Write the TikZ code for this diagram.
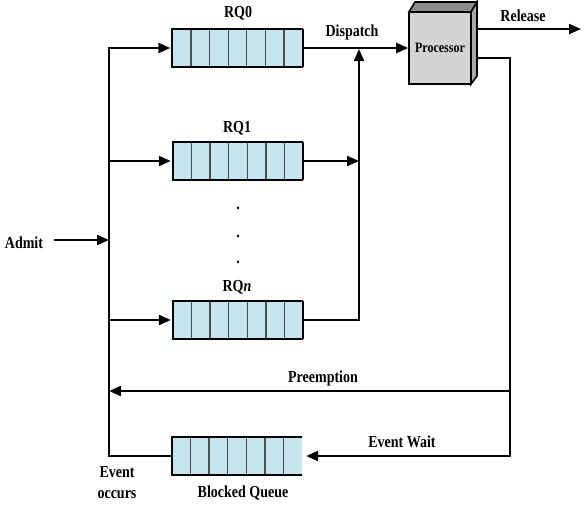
\documentclass[tikz,border=0pt]{standalone}
\usepackage{fontspec}
\setmainfont{Liberation Serif}
\usetikzlibrary{arrows.meta}
\usetikzlibrary{calc}
\definecolor{qblue}{RGB}{194,229,239}
\definecolor{procfront}{RGB}{212,212,212}
\definecolor{proctop}{RGB}{140,140,140}
\definecolor{procside}{RGB}{168,168,168}
\newcommand{\tall}[1]{\scalebox{1}[1.2]{#1}}
\tikzset{
    every node/.style={font=\fontsize{14}{16}\selectfont\bfseries},
    wire/.style={line width=2.2pt},
    arr/.style={wire, -{Triangle[length=12pt,width=10pt]}},
    queue/.style={minimum width=130pt, minimum height=37pt, inner sep=0pt, fill=qblue},
    cell/.style={line width=1.2pt, draw=black!70},
    edge/.style={line width=2.2pt}
}
\begin{document}
\begin{tikzpicture}[x=1pt,y=-1pt]
        \useasboundingbox (0,0) rectangle (586,523);
        % queues
        \node [queue] (rq0) at (237.5,48) {};
        \node [queue] (rq1) at (238,161) {};
        \node [queue] (rqn) at (238,320) {};
        \node [queue] (bq) at (237,456) {};
        \foreach \q in {rq0,rq1,rqn,bq} {
            \foreach \i in {1,...,6}
                \draw [cell] ($(\q.south west)!\i/7!(\q.south east)$) -- ($(\q.north west)!\i/7!(\q.north east)$);
            \draw [edge] (\q.north east) -- (\q.north west) -- (\q.south west) -- (\q.south east);
        }
        \foreach \q in {rq0,rq1,rqn}
            \draw [edge] (\q.north east) -- (\q.south east);
        \node (rq0 label) at (238,13) {\tall{RQ0}};
        \node (rq1 label) at (237,128) {\tall{RQ1}};
        \node (rqn label) at (237,287) {\tall{RQ\textit{n}}};
        \node (dot1) at (238,208) {\tall{.}};
        \node (dot2) at (238,236) {\tall{.}};
        \node (dot3) at (238,262) {\tall{.}};
        % processor
        \fill [proctop, draw=black, line width=1.6pt] (409,12) -- (415,2) -- (477,2) -- (471,12) -- cycle;
        \fill [procside, draw=black, line width=1.6pt] (471,12) -- (477,2) -- (477,76) -- (471,84) -- cycle;
        \node [draw, line width=1.6pt, fill=procfront, minimum width=62pt, minimum height=72pt, inner sep=0pt,
            font=\fontsize{12}{14}\selectfont\bfseries] (proc) at (440,48) {\tall{Processor}};
        \coordinate (rel out) at (477,29);
        \coordinate (rel end) at (581,29);
        \coordinate (pre out) at (477,58);
        \coordinate (bus) at (109,0);
        \coordinate (right) at (510,0);
        \coordinate (disp) at (359,48);
        \coordinate (pre) at (510,391);
        % texts
        \node (admit) at (24,243) {\tall{Admit}};
        \node (dispatch) at (352,32) {\tall{Dispatch}};
        \node (release) at (523,16) {\tall{Release}};
        \node (preemption) at (323,378) {\tall{Preemption}};
        \node (event wait) at (402,442) {\tall{Event Wait}};
        \node [inner sep=0pt] (event occurs) at (117,484)
            {\tall{\begin{tabular}{@{}c@{}}Event\\[2pt]occurs\end{tabular}}};
        \node (blocked) at (243,493) {\tall{Blocked Queue}};
        % connectors
        \draw [arr] ([xshift=7pt]admit.east |- 0,240) -- (bus |- 0,240);
        \draw [arr] (bq.west) -| (bus |- rq0.west) -- ([xshift=-2pt]rq0.west);
        \draw [arr] (bus |- rq1.west) -- ([xshift=-2pt]rq1.west);
        \draw [arr] (bus |- rqn.west) -- ([xshift=-2pt]rqn.west);
        \draw [arr] (rq0.east) -- (proc.west);
        \draw [arr] (rq1.east) -- (disp |- rq1.east);
        \draw [arr, shorten >=1pt] (rqn.east) -| (disp);
        \draw [arr] (rel out) -- (rel end);
        \draw [arr] (pre out) -| (right |- bq.east) -- ([xshift=4pt]bq.east);
        \draw [arr] (pre) -- (bus |- pre);
    \end{tikzpicture}
\end{document}
